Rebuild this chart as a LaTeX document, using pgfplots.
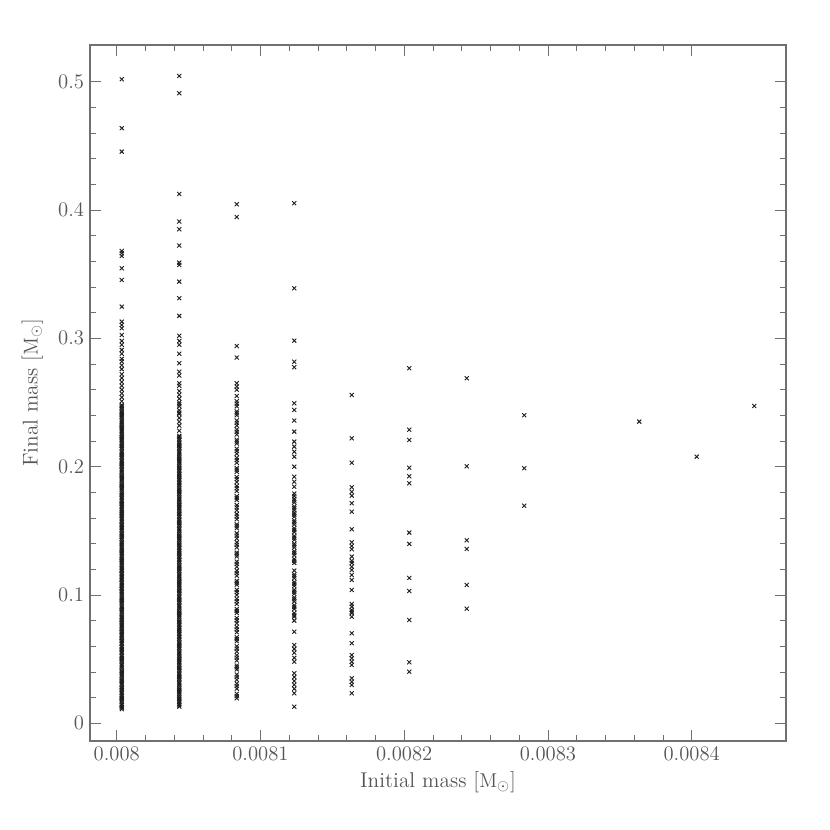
\documentclass[border=0pt]{standalone}
\usepackage{pgfplots}
\pgfplotsset{compat=1.18}
\definecolor{txt}{HTML}{555555}
\definecolor{axl}{HTML}{707070}
\definecolor{mk}{HTML}{1E1E1E}
\begin{document}
\begin{tikzpicture}
\begin{axis}[
  scale only axis, width=417.6pt, height=417.6pt,
  xmin=0.0079814, xmax=0.0084656, ymin=-0.0138, ymax=0.5286,
  xtick={0.008,0.0081,0.0082,0.0083,0.0084},
  xticklabels={0.008,0.0081,0.0082,0.0083,0.0084},
  scaled x ticks=false,
  ytick={0,0.1,0.2,0.3,0.4,0.5},
  yticklabels={0,0.1,0.2,0.3,0.4,0.5},
  minor x tick num=4, minor y tick num=4,
  tick align=inside, major tick length=6.6pt, minor tick length=3.6pt,
  axis line style={axl, line width=0.65pt},
  every tick/.style={axl, line width=0.55pt},
  tick label style={txt, font=\fontsize{12.4}{14}\selectfont},
  label style={txt, font=\fontsize{12.8}{15}\selectfont},
  xlabel={Initial mass [$\mathrm{M}_\odot$]},
  ylabel={Final mass [$\mathrm{M}_\odot$]},
  xlabel style={at={(axis description cs:0.5,-0.059)}, anchor=center},
  ylabel style={at={(axis description cs:-0.083,0.5)}, anchor=center},
  clip=false,
]
\addplot[only marks, mark=x, mark size=1.7pt, mk, mark options={line width=0.55pt}] table[row sep=\\] {
x y\\
0.0080035 0.011\\ 0.0080035 0.013\\ 0.0080035 0.015\\ 0.0080035 0.018\\ 0.0080035 0.020\\ 0.0080035 0.022\\ 0.0080035 0.025\\ 0.0080035 0.027\\ 0.0080035 0.030\\ 0.0080035 0.032\\
0.0080035 0.034\\ 0.0080035 0.037\\ 0.0080035 0.039\\ 0.0080035 0.041\\ 0.0080035 0.044\\ 0.0080035 0.046\\ 0.0080035 0.049\\ 0.0080035 0.051\\ 0.0080035 0.053\\ 0.0080035 0.056\\
0.0080035 0.058\\ 0.0080035 0.060\\ 0.0080035 0.063\\ 0.0080035 0.065\\ 0.0080035 0.068\\ 0.0080035 0.070\\ 0.0080035 0.072\\ 0.0080035 0.075\\ 0.0080035 0.077\\ 0.0080035 0.079\\
0.0080035 0.082\\ 0.0080035 0.084\\ 0.0080035 0.087\\ 0.0080035 0.089\\ 0.0080035 0.091\\ 0.0080035 0.094\\ 0.0080035 0.096\\ 0.0080035 0.098\\ 0.0080035 0.101\\ 0.0080035 0.103\\
0.0080035 0.106\\ 0.0080035 0.108\\ 0.0080035 0.110\\ 0.0080035 0.113\\ 0.0080035 0.115\\ 0.0080035 0.117\\ 0.0080035 0.120\\ 0.0080035 0.122\\ 0.0080035 0.125\\ 0.0080035 0.127\\
0.0080035 0.129\\ 0.0080035 0.132\\ 0.0080035 0.134\\ 0.0080035 0.136\\ 0.0080035 0.139\\ 0.0080035 0.141\\ 0.0080035 0.144\\ 0.0080035 0.146\\ 0.0080035 0.148\\ 0.0080035 0.151\\
0.0080035 0.153\\ 0.0080035 0.155\\ 0.0080035 0.158\\ 0.0080035 0.160\\ 0.0080035 0.163\\ 0.0080035 0.165\\ 0.0080035 0.167\\ 0.0080035 0.170\\ 0.0080035 0.172\\ 0.0080035 0.174\\
0.0080035 0.177\\ 0.0080035 0.179\\ 0.0080035 0.182\\ 0.0080035 0.184\\ 0.0080035 0.186\\ 0.0080035 0.189\\ 0.0080035 0.191\\ 0.0080035 0.193\\ 0.0080035 0.196\\ 0.0080035 0.198\\
0.0080035 0.201\\ 0.0080035 0.203\\ 0.0080035 0.205\\ 0.0080035 0.208\\ 0.0080035 0.210\\ 0.0080035 0.212\\ 0.0080035 0.215\\ 0.0080035 0.217\\ 0.0080035 0.220\\ 0.0080035 0.222\\
0.0080035 0.224\\ 0.0080035 0.227\\ 0.0080035 0.229\\ 0.0080035 0.231\\ 0.0080035 0.234\\ 0.0080035 0.236\\ 0.0080035 0.239\\ 0.0080035 0.241\\ 0.0080035 0.243\\ 0.0080035 0.246\\
0.0080035 0.248\\ 0.0080035 0.251\\ 0.0080035 0.254\\ 0.0080035 0.257\\ 0.0080035 0.260\\ 0.0080035 0.263\\ 0.0080035 0.266\\ 0.0080035 0.269\\ 0.0080035 0.272\\ 0.0080035 0.276\\
0.0080035 0.279\\ 0.0080035 0.282\\ 0.0080035 0.284\\ 0.0080035 0.288\\ 0.0080035 0.291\\ 0.0080035 0.295\\ 0.0080035 0.298\\ 0.0080035 0.3026\\ 0.0080035 0.3079\\ 0.0080035 0.3104\\
0.0080035 0.3130\\ 0.0080035 0.3247\\ 0.0080035 0.3455\\ 0.0080035 0.3546\\ 0.0080035 0.3642\\ 0.0080035 0.3663\\ 0.0080035 0.3681\\ 0.0080035 0.4455\\ 0.0080035 0.4638\\ 0.0080035 0.5019\\
0.0080035 0.0122\\ 0.0080035 0.0142\\ 0.0080035 0.0168\\ 0.0080035 0.0191\\ 0.0080035 0.0212\\ 0.0080035 0.0236\\ 0.0080035 0.0261\\ 0.0080035 0.0284\\ 0.0080035 0.0309\\ 0.0080035 0.0331\\
0.0080035 0.0356\\ 0.0080035 0.0381\\ 0.0080035 0.0402\\ 0.0080035 0.0427\\ 0.0080035 0.0451\\ 0.0080035 0.0476\\ 0.0080035 0.0499\\ 0.0080035 0.0522\\ 0.0080035 0.0547\\ 0.0080035 0.0571\\
0.0080035 0.0593\\ 0.0080035 0.0617\\ 0.0080035 0.0642\\ 0.0080035 0.0666\\ 0.0080035 0.0689\\ 0.0080035 0.0711\\ 0.0080035 0.0736\\ 0.0080035 0.0762\\ 0.0080035 0.0781\\ 0.0080035 0.0806\\
0.0080035 0.0831\\ 0.0080035 0.0855\\ 0.0080035 0.0881\\ 0.0080035 0.0902\\ 0.0080035 0.0926\\ 0.0080035 0.0951\\ 0.0080035 0.0972\\ 0.0080035 0.0995\\ 0.0080035 0.1021\\ 0.0080035 0.1046\\
0.0080035 0.1071\\ 0.0080035 0.1091\\ 0.0080035 0.1116\\ 0.0080035 0.1141\\ 0.0080035 0.1162\\ 0.0080035 0.1186\\ 0.0080035 0.1211\\ 0.0080035 0.1236\\ 0.0080035 0.1261\\ 0.0080035 0.1281\\
0.0080035 0.1306\\ 0.0080035 0.1331\\ 0.0080035 0.1352\\ 0.0080035 0.1376\\ 0.0080035 0.1401\\ 0.0080035 0.1426\\ 0.0080035 0.1451\\ 0.0080035 0.1471\\ 0.0080035 0.1496\\ 0.0080035 0.1521\\
0.0080035 0.1542\\ 0.0080035 0.1566\\ 0.0080035 0.1591\\ 0.0080035 0.1616\\ 0.0080035 0.1641\\ 0.0080035 0.1661\\ 0.0080035 0.1686\\ 0.0080035 0.1711\\ 0.0080035 0.1732\\ 0.0080035 0.1756\\
0.0080035 0.1781\\ 0.0080035 0.1806\\ 0.0080035 0.1831\\ 0.0080035 0.1851\\ 0.0080035 0.1876\\ 0.0080035 0.1901\\ 0.0080035 0.1922\\ 0.0080035 0.1946\\ 0.0080035 0.1971\\ 0.0080035 0.1996\\
0.0080035 0.2021\\ 0.0080035 0.2041\\ 0.0080035 0.2066\\ 0.0080035 0.2091\\ 0.0080035 0.2112\\ 0.0080035 0.2136\\ 0.0080035 0.2161\\ 0.0080035 0.2186\\ 0.0080035 0.2211\\ 0.0080035 0.2231\\
0.0080035 0.2256\\ 0.0080035 0.2281\\ 0.0080035 0.2302\\ 0.0080035 0.2326\\ 0.0080035 0.2351\\ 0.0080035 0.2376\\ 0.0080035 0.2401\\ 0.0080035 0.2421\\ 0.0080035 0.2446\\ 0.0080035 0.2471\\
0.0080435 0.013\\ 0.0080435 0.015\\ 0.0080435 0.018\\ 0.0080435 0.020\\ 0.0080435 0.023\\ 0.0080435 0.025\\ 0.0080435 0.027\\ 0.0080435 0.030\\ 0.0080435 0.032\\ 0.0080435 0.035\\
0.0080435 0.037\\ 0.0080435 0.039\\ 0.0080435 0.042\\ 0.0080435 0.044\\ 0.0080435 0.047\\ 0.0080435 0.049\\ 0.0080435 0.051\\ 0.0080435 0.054\\ 0.0080435 0.056\\ 0.0080435 0.059\\
0.0080435 0.061\\ 0.0080435 0.063\\ 0.0080435 0.066\\ 0.0080435 0.068\\ 0.0080435 0.071\\ 0.0080435 0.073\\ 0.0080435 0.075\\ 0.0080435 0.078\\ 0.0080435 0.080\\ 0.0080435 0.083\\
0.0080435 0.085\\ 0.0080435 0.087\\ 0.0080435 0.090\\ 0.0080435 0.092\\ 0.0080435 0.095\\ 0.0080435 0.097\\ 0.0080435 0.099\\ 0.0080435 0.102\\ 0.0080435 0.104\\ 0.0080435 0.107\\
0.0080435 0.109\\ 0.0080435 0.111\\ 0.0080435 0.114\\ 0.0080435 0.116\\ 0.0080435 0.119\\ 0.0080435 0.121\\ 0.0080435 0.123\\ 0.0080435 0.126\\ 0.0080435 0.128\\ 0.0080435 0.131\\
0.0080435 0.133\\ 0.0080435 0.135\\ 0.0080435 0.138\\ 0.0080435 0.140\\ 0.0080435 0.143\\ 0.0080435 0.145\\ 0.0080435 0.147\\ 0.0080435 0.150\\ 0.0080435 0.152\\ 0.0080435 0.155\\
0.0080435 0.157\\ 0.0080435 0.159\\ 0.0080435 0.162\\ 0.0080435 0.164\\ 0.0080435 0.167\\ 0.0080435 0.169\\ 0.0080435 0.171\\ 0.0080435 0.174\\ 0.0080435 0.176\\ 0.0080435 0.179\\
0.0080435 0.181\\ 0.0080435 0.183\\ 0.0080435 0.186\\ 0.0080435 0.188\\ 0.0080435 0.191\\ 0.0080435 0.193\\ 0.0080435 0.195\\ 0.0080435 0.198\\ 0.0080435 0.200\\ 0.0080435 0.203\\
0.0080435 0.205\\ 0.0080435 0.207\\ 0.0080435 0.210\\ 0.0080435 0.212\\ 0.0080435 0.215\\ 0.0080435 0.217\\ 0.0080435 0.219\\ 0.0080435 0.222\\ 0.0080435 0.224\\ 0.0080435 0.228\\
0.0080435 0.232\\ 0.0080435 0.235\\ 0.0080435 0.238\\ 0.0080435 0.241\\ 0.0080435 0.244\\ 0.0080435 0.247\\ 0.0080435 0.250\\ 0.0080435 0.253\\ 0.0080435 0.256\\ 0.0080435 0.259\\
0.0080435 0.263\\ 0.0080435 0.265\\ 0.0080435 0.271\\ 0.0080435 0.274\\ 0.0080435 0.2806\\ 0.0080435 0.288\\ 0.0080435 0.295\\ 0.0080435 0.298\\ 0.0080435 0.302\\ 0.0080435 0.3175\\
0.0080435 0.3313\\ 0.0080435 0.3442\\ 0.0080435 0.3572\\ 0.0080435 0.3590\\ 0.0080435 0.3723\\ 0.0080435 0.3850\\ 0.0080435 0.3910\\ 0.0080435 0.4125\\ 0.0080435 0.4910\\ 0.0080435 0.5045\\
0.0080435 0.0141\\ 0.0080435 0.0166\\ 0.0080435 0.0191\\ 0.0080435 0.0216\\ 0.0080435 0.0241\\ 0.0080435 0.0261\\ 0.0080435 0.0286\\ 0.0080435 0.0311\\ 0.0080435 0.0336\\ 0.0080435 0.0361\\
0.0080435 0.0381\\ 0.0080435 0.0406\\ 0.0080435 0.0431\\ 0.0080435 0.0456\\ 0.0080435 0.0481\\ 0.0080435 0.0501\\ 0.0080435 0.0526\\ 0.0080435 0.0551\\ 0.0080435 0.0576\\ 0.0080435 0.0601\\
0.0080435 0.0621\\ 0.0080435 0.0646\\ 0.0080435 0.0671\\ 0.0080435 0.0696\\ 0.0080435 0.0721\\ 0.0080435 0.0741\\ 0.0080435 0.0766\\ 0.0080435 0.0791\\ 0.0080435 0.0816\\ 0.0080435 0.0841\\
0.0080435 0.0861\\ 0.0080435 0.0886\\ 0.0080435 0.0911\\ 0.0080435 0.0936\\ 0.0080435 0.0961\\ 0.0080435 0.0981\\ 0.0080435 0.1006\\ 0.0080435 0.1031\\ 0.0080435 0.1056\\ 0.0080435 0.1081\\
0.0080435 0.1101\\ 0.0080435 0.1126\\ 0.0080435 0.1151\\ 0.0080435 0.1176\\ 0.0080435 0.1201\\ 0.0080435 0.1221\\ 0.0080435 0.1246\\ 0.0080435 0.1271\\ 0.0080435 0.1296\\ 0.0080435 0.1321\\
0.0080435 0.1341\\ 0.0080435 0.1366\\ 0.0080435 0.1391\\ 0.0080435 0.1416\\ 0.0080435 0.1441\\ 0.0080435 0.1461\\ 0.0080435 0.1486\\ 0.0080435 0.1511\\ 0.0080435 0.1536\\ 0.0080435 0.1561\\
0.0080435 0.1581\\ 0.0080435 0.1606\\ 0.0080435 0.1631\\ 0.0080435 0.1656\\ 0.0080435 0.1681\\ 0.0080435 0.1701\\ 0.0080435 0.1726\\ 0.0080435 0.1751\\ 0.0080435 0.1776\\ 0.0080435 0.1801\\
0.0080435 0.1821\\ 0.0080435 0.1846\\ 0.0080435 0.1871\\ 0.0080435 0.1896\\ 0.0080435 0.1921\\ 0.0080435 0.1941\\ 0.0080435 0.1966\\ 0.0080435 0.1991\\ 0.0080435 0.2016\\ 0.0080435 0.2041\\
0.0080435 0.2061\\ 0.0080435 0.2086\\ 0.0080435 0.2111\\ 0.0080435 0.2136\\ 0.0080435 0.2161\\ 0.0080435 0.2181\\ 0.0080435 0.2206\\ 0.0080435 0.2231\\ 0.0080435 0.2421\\ 0.0080435 0.2486\\
0.0080835 0.0195\\ 0.0080835 0.023\\ 0.0080835 0.027\\ 0.0080835 0.031\\ 0.0080835 0.034\\ 0.0080835 0.038\\ 0.0080835 0.042\\ 0.0080835 0.045\\ 0.0080835 0.049\\ 0.0080835 0.053\\
0.0080835 0.056\\ 0.0080835 0.060\\ 0.0080835 0.064\\ 0.0080835 0.067\\ 0.0080835 0.071\\ 0.0080835 0.075\\ 0.0080835 0.078\\ 0.0080835 0.082\\ 0.0080835 0.086\\ 0.0080835 0.089\\
0.0080835 0.093\\ 0.0080835 0.097\\ 0.0080835 0.100\\ 0.0080835 0.104\\ 0.0080835 0.108\\ 0.0080835 0.111\\ 0.0080835 0.115\\ 0.0080835 0.119\\ 0.0080835 0.122\\ 0.0080835 0.126\\
0.0080835 0.130\\ 0.0080835 0.133\\ 0.0080835 0.137\\ 0.0080835 0.141\\ 0.0080835 0.144\\ 0.0080835 0.148\\ 0.0080835 0.152\\ 0.0080835 0.155\\ 0.0080835 0.159\\ 0.0080835 0.163\\
0.0080835 0.166\\ 0.0080835 0.170\\ 0.0080835 0.174\\ 0.0080835 0.177\\ 0.0080835 0.181\\ 0.0080835 0.185\\ 0.0080835 0.188\\ 0.0080835 0.192\\ 0.0080835 0.196\\ 0.0080835 0.199\\
0.0080835 0.203\\ 0.0080835 0.207\\ 0.0080835 0.210\\ 0.0080835 0.214\\ 0.0080835 0.218\\ 0.0080835 0.221\\ 0.0080835 0.225\\ 0.0080835 0.229\\ 0.0080835 0.232\\ 0.0080835 0.236\\
0.0080835 0.240\\ 0.0080835 0.243\\ 0.0080835 0.247\\ 0.0080835 0.251\\ 0.0080835 0.255\\ 0.0080835 0.260\\ 0.0080835 0.2624\\ 0.0080835 0.2650\\ 0.0080835 0.285\\ 0.0080835 0.294\\
0.0080835 0.3945\\ 0.0080835 0.4045\\
0.0080835 0.0212\\ 0.0080835 0.0291\\ 0.0080835 0.0362\\ 0.0080835 0.0436\\ 0.0080835 0.0511\\ 0.0080835 0.0582\\ 0.0080835 0.0656\\ 0.0080835 0.0731\\ 0.0080835 0.0802\\ 0.0080835 0.0876\\
0.0080835 0.0951\\ 0.0080835 0.1022\\ 0.0080835 0.1096\\ 0.0080835 0.1171\\ 0.0080835 0.1242\\ 0.0080835 0.1316\\ 0.0080835 0.1391\\ 0.0080835 0.1462\\ 0.0080835 0.1536\\ 0.0080835 0.1611\\
0.0080835 0.1682\\ 0.0080835 0.1756\\ 0.0080835 0.1831\\ 0.0080835 0.1902\\ 0.0080835 0.1976\\ 0.0080835 0.2051\\ 0.0080835 0.2122\\ 0.0080835 0.2196\\ 0.0080835 0.2271\\ 0.0080835 0.2342\\
0.0080835 0.2416\\ 0.0080835 0.2491\\
0.0081235 0.0129\\ 0.0081235 0.0234\\ 0.0081235 0.027\\ 0.0081235 0.030\\ 0.0081235 0.033\\ 0.0081235 0.036\\ 0.0081235 0.039\\ 0.0081235 0.048\\ 0.0081235 0.051\\ 0.0081235 0.055\\
0.0081235 0.058\\ 0.0081235 0.061\\ 0.0081235 0.0714\\ 0.0081235 0.080\\ 0.0081235 0.083\\ 0.0081235 0.086\\ 0.0081235 0.089\\ 0.0081235 0.092\\ 0.0081235 0.095\\ 0.0081235 0.098\\
0.0081235 0.101\\ 0.0081235 0.104\\ 0.0081235 0.107\\ 0.0081235 0.110\\ 0.0081235 0.113\\ 0.0081235 0.116\\ 0.0081235 0.119\\ 0.0081235 0.125\\ 0.0081235 0.128\\ 0.0081235 0.131\\
0.0081235 0.134\\ 0.0081235 0.137\\ 0.0081235 0.140\\ 0.0081235 0.143\\ 0.0081235 0.146\\ 0.0081235 0.149\\ 0.0081235 0.152\\ 0.0081235 0.155\\ 0.0081235 0.158\\ 0.0081235 0.161\\
0.0081235 0.164\\ 0.0081235 0.166\\ 0.0081235 0.169\\ 0.0081235 0.172\\ 0.0081235 0.175\\ 0.0081235 0.179\\ 0.0081235 0.1844\\ 0.0081235 0.1883\\ 0.0081235 0.1922\\ 0.0081235 0.2000\\
0.0081235 0.2078\\ 0.0081235 0.2117\\ 0.0081235 0.2156\\ 0.0081235 0.2195\\ 0.0081235 0.2273\\ 0.0081235 0.2359\\ 0.0081235 0.2442\\ 0.0081235 0.2494\\ 0.0081235 0.2775\\ 0.0081235 0.2818\\
0.0081235 0.2982\\ 0.0081235 0.3390\\ 0.0081235 0.4053\\
0.0081235 0.0841\\ 0.0081235 0.0906\\ 0.0081235 0.0966\\ 0.0081235 0.1026\\ 0.0081235 0.1086\\ 0.0081235 0.1146\\ 0.0081235 0.1266\\ 0.0081235 0.1326\\ 0.0081235 0.1386\\ 0.0081235 0.1446\\
0.0081235 0.1506\\ 0.0081235 0.1566\\ 0.0081235 0.1626\\ 0.0081235 0.1676\\ 0.0081235 0.1736\\ 0.0081235 0.1771\\
0.0081635 0.0234\\ 0.0081635 0.0299\\ 0.0081635 0.0324\\ 0.0081635 0.0351\\ 0.0081635 0.0455\\ 0.0081635 0.0480\\ 0.0081635 0.0507\\ 0.0081635 0.0532\\ 0.0081635 0.0624\\ 0.0081635 0.0701\\
0.0081635 0.0831\\ 0.0081635 0.0857\\ 0.0081635 0.0870\\ 0.0081635 0.0883\\ 0.0081635 0.0909\\ 0.0081635 0.0930\\ 0.0081635 0.1039\\ 0.0081635 0.1117\\ 0.0081635 0.1156\\ 0.0081635 0.1195\\
0.0081635 0.1220\\ 0.0081635 0.1250\\ 0.0081635 0.1267\\ 0.0081635 0.1299\\ 0.0081635 0.1356\\ 0.0081635 0.1382\\ 0.0081635 0.1411\\ 0.0081635 0.1512\\ 0.0081635 0.1649\\ 0.0081635 0.1715\\
0.0081635 0.1774\\ 0.0081635 0.1805\\ 0.0081635 0.1839\\ 0.0081635 0.2031\\ 0.0081635 0.2221\\ 0.0081635 0.2559\\
0.0082035 0.0402\\ 0.0082035 0.0475\\ 0.0082035 0.0805\\ 0.0082035 0.1031\\ 0.0082035 0.1133\\ 0.0082035 0.1398\\ 0.0082035 0.1486\\ 0.0082035 0.1870\\ 0.0082035 0.1925\\ 0.0082035 0.1992\\
0.0082035 0.2208\\ 0.0082035 0.2288\\ 0.0082035 0.2767\\
0.0082435 0.0893\\ 0.0082435 0.1078\\ 0.0082435 0.1359\\ 0.0082435 0.1426\\ 0.0082435 0.2003\\ 0.0082435 0.2689\\
0.0082835 0.1696\\ 0.0082835 0.1988\\ 0.0082835 0.2401\\
0.0083635 0.2351\\
0.0084035 0.2078\\
0.0084435 0.2473\\
};
\end{axis}
\path ([xshift=-54pt,yshift=-53.4pt]current axis.south west) rectangle ++(498pt,498pt);
\end{tikzpicture}
\end{document}
